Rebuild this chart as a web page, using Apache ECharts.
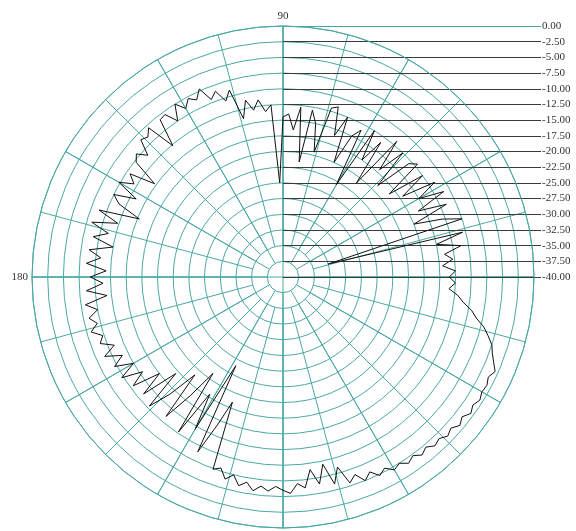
<!DOCTYPE html>
<html>
<head>
<meta charset="utf-8">
<script src="https://cdn.jsdelivr.net/npm/echarts@6/dist/echarts.min.js"></script>
<style>html,body{margin:0;padding:0;background:#fff}#c{width:576px;height:531px}</style>
</head>
<body>
<div id="c"></div>
<script>
// angle step 2 degrees, starting at 0 (right), counter-clockwise
var angleStep = 2;
var gainDb = [
 -13.5,-12.5,-14.5,-12.8,-14.0,-11.2,-15.0,-10.5,-32.5,-10.0,
 -13.0,-17.5,-11.5,-16.0,-11.0,-15.0,-11.5,-17.0,-12.5,-18.5,
 -12.0,-13.0,-19.0,-12.5,-17.0,-11.8,-21.0,-13.5,-17.5,-12.5,
 -23.0,-13.5,-15.0,-20.0,-12.5,-16.0,-11.5,-12.0,-19.5,-15.0,
 -13.0,-21.5,-12.8,-16.5,-14.0,-14.5,-25.0,-12.5,-13.5,-11.5,
 -13.0,-11.2,-14.0,-9.0,-10.5,-8.5,-9.5,-7.2,-8.6,-7.8,
 -9.0,-7.5,-10.0,-8.0,-8.2,-12.7,-8.0,-9.0,-8.5,-11.0,
 -9.5,-10.3,-14.7,-10.6,-12.0,-9.8,-13.5,-10.0,-11.4,-15.3,
 -8.8,-12.3,-8.3,-11.3,-9.1,-12.5,-8.8,-10.8,-8.6,-11.8,
 -9.3,-11.3,-8.6,-11.8,-8.2,-10.0,-8.4,-9.5,-8.2,-9.8,
 -9.0,-11.0,-8.9,-11.5,-9.6,-12.5,-9.7,-13.0,-10.5,-15.0,
 -11.0,-17.0,-10.4,-14.0,-19.0,-11.0,-16.0,-21.0,-10.2,-18.0,
 -12.0,-24.0,-9.0,-14.0,-18.5,-7.4,-8.0,-6.5,-7.5,-6.0,
 -6.8,-5.6,-6.5,-5.8,-6.6,-6.0,-5.5,-7.0,-6.2,-9.0,
 -6.5,-9.5,-6.0,-8.5,-5.5,-6.5,-5.0,-6.0,-4.8,-5.5,
 -4.5,-5.0,-4.2,-4.8,-4.0,-4.6,-3.8,-4.2,-3.5,-4.0,
 -3.2,-3.8,-3.0,-3.5,-3.0,-3.4,-3.2,-3.6,-3.0,-3.8,
 -4.5,-5.0,-6.0,-7.0,-8.5,-9.5,-11.0,-12.0,-13.5,-12.5
];
var radialTicks = [0,-2.5,-5,-7.5,-10,-12.5,-15,-17.5,-20,-22.5,-25,-27.5,-30,-32.5,-35,-37.5,-40];
var angleLabels = ['90','180'];

var CX = 283, CY = 277, R = 251, RING = R / 16;
var TEAL = '#4aa8a3';
var FONT = 'Liberation Serif';

var pts = gainDb.map(function (v, i) { return [v, i * angleStep]; });
pts.push([gainDb[0], 360]);

// staggered spokes: [innerRadius, interval]
var spokeSets = [[0, 90], [RING, 30], [2 * RING, 15]];

var polar = [], angleAxis = [], radiusAxis = [];
spokeSets.forEach(function (s, k) {
  polar.push({ center: [CX, CY], radius: [s[0], R] });
  angleAxis.push({
    polarIndex: k, type: 'value', min: 0, max: 360, interval: s[1],
    startAngle: 0, clockwise: false,
    axisLine: { show: k === 0, lineStyle: { color: TEAL, width: 1 } },
    axisTick: { show: false },
    axisLabel: {
      show: k === 0, margin: 4, color: '#333', fontFamily: FONT, fontSize: 11,
      formatter: function (v) { return angleLabels.indexOf(String(v)) >= 0 ? String(v) : ''; }
    },
    splitLine: { show: true, lineStyle: { color: TEAL, width: 1 } }
  });
  radiusAxis.push({
    polarIndex: k, type: 'value', min: -40, max: 0, interval: 2.5,
    axisLine: { show: false }, axisTick: { show: false }, axisLabel: { show: false },
    splitLine: { show: k === 0, lineStyle: { color: TEAL, width: 1 } }
  });
});

var lineColors = radialTicks.map(function (v) { return v === -40 ? TEAL : '#3a3a3a'; });

var option = {
  animation: false,
  polar: polar,
  angleAxis: angleAxis,
  radiusAxis: radiusAxis,
  grid: { left: CX, top: CY - R, width: 541 - CX, height: R },
  xAxis: { type: 'value', min: 0, max: 1, show: false },
  yAxis: {
    type: 'value', position: 'right', min: -40, max: 0, interval: 2.5,
    axisLine: { show: false }, axisTick: { show: false },
    axisLabel: { margin: 1, color: '#333', fontFamily: FONT, fontSize: 11,
      formatter: function (v) { return v.toFixed(2); } },
    splitLine: { show: true, lineStyle: { color: lineColors, width: 1 } }
  },
  series: [{
    type: 'line', coordinateSystem: 'polar', polarIndex: 0,
    data: pts, showSymbol: false, symbol: 'none',
    lineStyle: { color: '#111', width: 1 }
  }]
};
var chart = echarts.init(document.getElementById('c'), null, { renderer: 'canvas' });
chart.setOption(option);
</script>
</body>
</html>
